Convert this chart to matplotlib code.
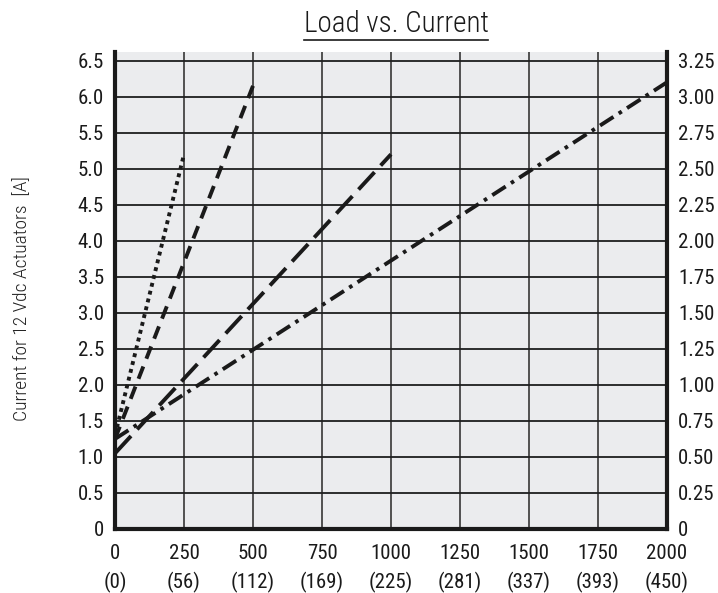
import matplotlib
matplotlib.use("Agg")
import matplotlib.pyplot as plt
from matplotlib.lines import Line2D
from matplotlib import font_manager

names = {f.name for f in font_manager.fontManager.ttflist}
prefs = ["Roboto Condensed", "Archivo Narrow", "PT Sans Narrow", "Pragati Narrow",
         "Barlow Condensed", "Encode Sans Condensed", "Liberation Sans Narrow",
         "Liberation Sans"]
FONT = next(p for p in prefs if p in names)
plt.rcParams['font.family'] = [FONT, 'DejaVu Sans']
plt.rcParams['lines.scale_dashes'] = False

# ---- data ----
x_ticks = [0, 250, 500, 750, 1000, 1250, 1500, 1750, 2000]
x_tick_kg = ["(0)", "(56)", "(112)", "(169)", "(225)", "(281)", "(337)", "(393)", "(450)"]
y_left_ticks = [0, 0.5, 1.0, 1.5, 2.0, 2.5, 3.0, 3.5, 4.0, 4.5, 5.0, 5.5, 6.0, 6.5]
y_right_labels = ["0", "0.25", "0.50", "0.75", "1.00", "1.25", "1.50", "1.75",
                  "2.00", "2.25", "2.50", "2.75", "3.00", "3.25"]

dotted_x = [0, 250]
dotted_y = [1.3, 5.2]
dashed_x = [0, 500]
dashed_y = [1.25, 6.15]
longdash_x = [0, 1000]
longdash_y = [1.05, 5.2]
dashdot_x = [0, 2000]
dashdot_y = [1.25, 6.2]

title = "Load vs. Current"
ylabel = "Current for 12 Vdc Actuators  [A]"

# ---- figure ----
fig = plt.figure(figsize=(7.18, 5.93), dpi=100)
ax = fig.add_axes([115/718, 1 - 529/593, (667-115)/718, (529-52)/593])
ax.set_facecolor("#ebecee")
ax.set_xlim(0, 2000)
ax.set_ylim(0, 6.62)

for v in x_ticks[1:-1]:
    ax.axvline(v, color="#444444", lw=1.3, zorder=1)
for v in y_left_ticks[1:]:
    ax.axhline(v, color="#1e1e1e", lw=1.3, zorder=1)

lc = "#1a1a1a"
lw = 2.8
ax.plot(dotted_x, dotted_y, color=lc, lw=lw, linestyle=(0, (2.8, 3)), zorder=3)
ax.plot(dashed_x, dashed_y, color=lc, lw=lw, linestyle=(0, (9.5, 6)), zorder=3)
ax.plot(longdash_x, longdash_y, color=lc, lw=lw, linestyle=(0, (17, 6.5)), zorder=3)
ax.plot(dashdot_x, dashdot_y, color=lc, lw=lw,
        linestyle=(0, (11.5, 4.5, 2.6, 4.5)), zorder=3)

for s in ("left", "right", "bottom"):
    ax.spines[s].set_linewidth(3)
    ax.spines[s].set_color("#1a1a1a")
ax.spines["top"].set_visible(False)

TS = 15
ax.set_xticks(x_ticks)
ax.set_xticklabels([f"{a}\n{b}" for a, b in zip(x_ticks, x_tick_kg)],
                   fontsize=TS, linespacing=1.5)
ax.set_yticks(y_left_ticks)
ax.set_yticklabels(["0"] + [f"{v:.1f}" for v in y_left_ticks[1:]], fontsize=TS)
ax.tick_params(axis="both", length=0, pad=8, colors="#1a1a1a")
ax.tick_params(axis="x", pad=11)

ax2 = ax.twinx()
ax2.set_ylim(0, 6.62)
ax2.set_yticks(y_left_ticks)
ax2.set_yticklabels(y_right_labels, fontsize=TS)
ax2.tick_params(axis="y", length=0, pad=8, colors="#1a1a1a")
for s in ax2.spines.values():
    s.set_visible(False)

fig.text(22/718, 1 - 299/593, ylabel, rotation=90, ha="center", va="center",
         fontsize=14, color="#222222", fontweight="light")

t = fig.text(396/718, 1 - 24/593, title, ha="center", va="center",
             fontsize=21, color="#1a1a1a", fontweight="light")
fig.canvas.draw()
bb = t.get_window_extent().transformed(fig.transFigure.inverted())
fig.add_artist(Line2D([bb.x0, bb.x1], [bb.y0 - 0.003, bb.y0 - 0.003],
                      transform=fig.transFigure, color="#1a1a1a", lw=1.2))

fig.savefig("out.png", dpi=100)
